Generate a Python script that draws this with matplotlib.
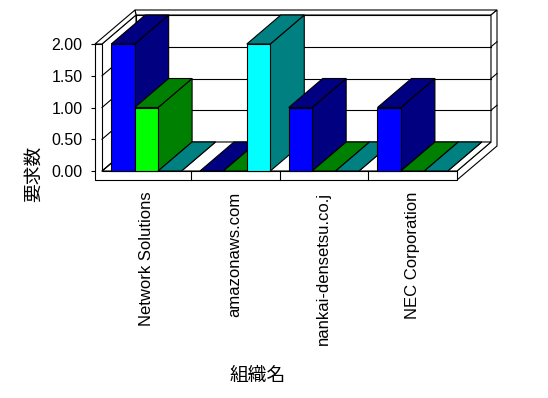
import matplotlib.pyplot as plt
from matplotlib.patches import Polygon

# data
categories = ['Network Solutions', 'amazonaws.com', 'nankai-densetsu.co.j', 'NEC Corporation']
series1 = [2, 0, 1, 1]
series2 = [1, 0, 0, 0]
series3 = [0, 2, 0, 0]
yticks = [0, 0.5, 1.0, 1.5, 2.0]

front_cols = ['#0000ff', '#00ff00', '#00ffff']
dark_cols = ['#000080', '#008000', '#008080']

W, H = 548, 398
fig = plt.figure(figsize=(W / 100, H / 100), dpi=100)

# front plane of the box in pixels
px_left, px_right, px_top, px_zero = 95, 457, 44, 171
ax = fig.add_axes([px_left / W, (H - px_zero) / H,
                   (px_right - px_left) / W, (px_zero - px_top) / H])
n = len(categories)
cat_px = 88.75
L = -(102 - px_left) / cat_px
ax.set_xlim(L, n)
ax.set_ylim(0, 2)
val_px = (px_zero - px_top) / 2.0

# depth offsets (data units)
DX, DY = 34 / cat_px, 29 / val_px
OX, OY = 40 / cat_px, 34 / val_px
B = -9 / val_px
T = 2.0
R = n
lw = 0.8


def poly(pts, fc, z):
    ax.add_patch(Polygon(pts, closed=True, facecolor=fc, edgecolor='black',
                         linewidth=lw, clip_on=False, zorder=z))


def line(xs, ys, z=1.5):
    ax.plot(xs, ys, color='black', linewidth=lw, clip_on=False, zorder=z)


# back wall and walls
poly([(DX, DY), (R + DX, DY), (R + DX, T + DY), (DX, T + DY)], 'white', 1)
poly([(L + OX, T + OY), (R + OX, T + OY), (R + DX, T + DY), (DX, T + DY)], 'white', 1)
poly([(R, B), (R, 0), (R + DX, DY), (R + DX, T + DY), (R + OX, T + OY), (R + OX, B + OY)], 'white', 1)
poly([(0, 0), (R, 0), (R + DX, DY), (DX, DY)], 'white', 1)
poly([(0, 0), (0, T), (DX, T + DY), (DX, DY)], 'white', 1)
poly([(L, T), (0, T), (DX, T + DY), (L + OX, T + OY)], 'white', 1)
poly([(L, B), (R, B), (R, 0), (0, 0), (0, T), (L, T)], 'white', 1)

for yv in yticks[:-1]:
    line([0, DX], [yv, yv + DY])
    if yv > 0:
        line([DX, R + DX], [yv + DY, yv + DY])
        line([R + DX, R + OX], [yv + DY, yv + OY])
for i in range(1, n):
    line([i, i], [B, 0])

# bars
bw = 0.264
off = (1 - 3 * bw) / 2
for i in range(n):
    for k, vals in enumerate([series1, series2, series3]):
        v = vals[i]
        x0 = i + off + k * bw
        x1 = x0 + bw
        z = 3 + i * 3 + k
        poly([(x1, 0), (x1 + DX, DY), (x1 + DX, v + DY), (x1, v)], dark_cols[k], z)
        poly([(x0, v), (x1, v), (x1 + DX, v + DY), (x0 + DX, v + DY)], dark_cols[k], z)
        if v > 0:
            poly([(x0, 0), (x1, 0), (x1, v), (x0, v)], front_cols[k], z)

for s in ax.spines.values():
    s.set_visible(False)
ax.set_yticks(yticks)
ax.set_yticklabels(['%.2f' % t for t in yticks], fontfamily='Liberation Sans', fontsize=11.5)
ax.tick_params(axis='y', direction='out', length=3, width=lw, pad=6)
ax.set_xticks([i + 0.5 for i in range(n)])
ax.set_xticklabels(categories, rotation=90, fontfamily='Liberation Sans', fontsize=12)
ax.tick_params(axis='x', length=0, pad=15)

cjk = ['Noto Sans CJK JP', 'DejaVu Sans']
ax.set_xlabel('組織名', fontfamily=cjk, fontsize=13.5)
ax.xaxis.set_label_coords((258 - px_left) / (px_right - px_left), -(365 - px_zero) / (px_zero - px_top))
ax.set_ylabel('要求数', fontfamily=cjk, fontsize=13.5, va='center')
ax.yaxis.set_label_coords((33 - px_left) / (px_right - px_left), -(174 - px_zero) / (px_zero - px_top))

fig.savefig('out.png', dpi=100)
